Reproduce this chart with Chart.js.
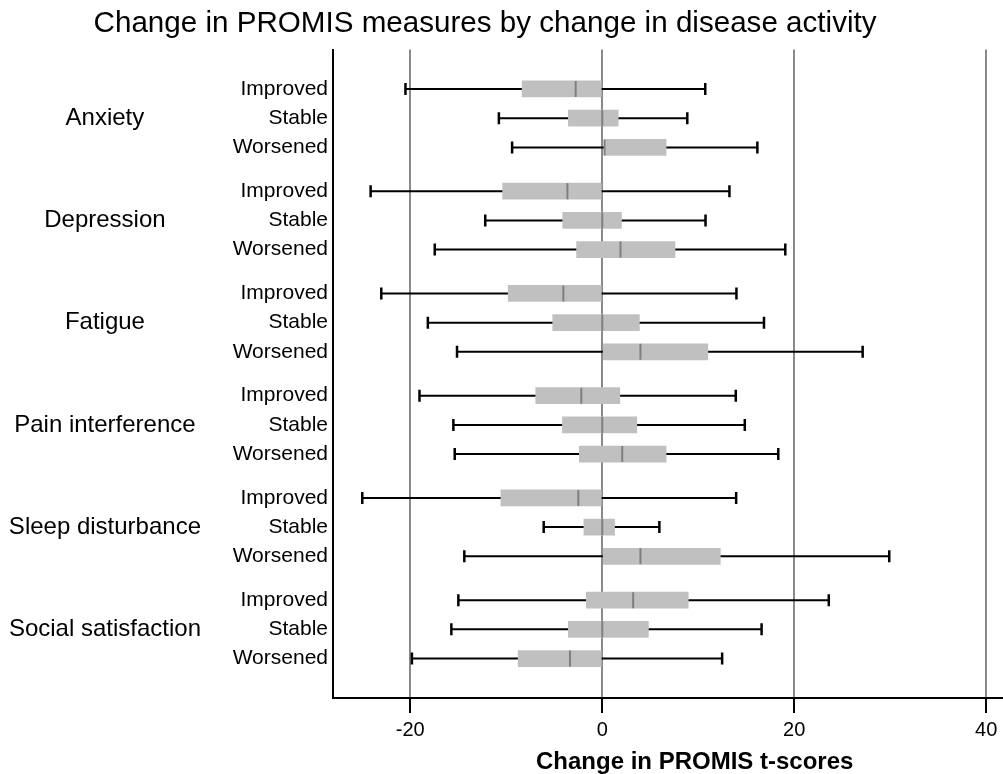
<!DOCTYPE html>
<html>
<head>
<meta charset="utf-8">
<script src="https://cdn.jsdelivr.net/npm/chart.js@4.4.1/dist/chart.umd.min.js"></script>
<style>
  html, body { margin: 0; padding: 0; background: #fff; overflow: hidden; }
  #wrap { position: relative; width: 1003px; height: 774px; }
</style>
</head>
<body>
<div id="wrap"><canvas id="c"></canvas></div>
<script>
// ---- data ----
const groups = ['Anxiety', 'Depression', 'Fatigue', 'Pain interference', 'Sleep disturbance', 'Social satisfaction'];
const statuses = ['Improved', 'Stable', 'Worsened'];
const whiskerLow  = [-20.5, -10.77, -9.39,  -24.13, -12.19, -17.45,  -23.02, -18.17, -15.13,  -19.04, -15.51, -15.37,  -25.0, -6.1, -14.37,  -14.99, -15.72, -19.83];
const q1          = [-8.35, -3.53, 0.24,    -10.38, -4.12, -2.67,    -9.8, -5.16, 0,          -6.93, -4.15, -2.39,     -10.56, -1.91, 0,    -1.66, -3.53, -8.76];
const medians     = [-2.77, 0, 0.24,        -3.63, 0, 1.9,           -4.05, 0, 3.98,          -2.18, 0, 2.08,          -2.49, 0, 3.98,      3.22, 0, -3.36];
const q3          = [0, 1.66, 6.65,         0, 2.0, 7.58,            0, 3.87, 11.0,           1.83, 3.6, 6.65,         0, 1.28, 12.3,       8.96, 4.81, 0];
const whiskerHigh = [10.73, 8.86, 16.16,    13.25, 10.76, 19.07,     13.98, 16.85, 27.13,     13.91, 14.85, 18.34,     13.95, 5.95, 29.9,   23.6, 16.6, 12.49];
const xTickValues = [-20, 0, 20, 40];

// ---- row positions on the vertical (linear) axis ----
const groupStep = 3.5;
const rowPos = [];
const rowLabels = [];
groups.forEach((g, gi) => statuses.forEach((s, si) => { rowPos.push(gi * groupStep + si); rowLabels.push(s); }));
const groupPos = groups.map((g, gi) => gi * groupStep + 1);

const FONT = "'Liberation Sans', Arial, Helvetica, sans-serif";
Chart.defaults.font.family = FONT;
Chart.defaults.color = '#000';

const boxData = rowPos.map((p, i) => ({ y: p, x: [q1[i], q3[i]] }));
const medianData = rowPos.map((p, i) => ({ x: medians[i], y: p }));
const capData = [];
rowPos.forEach((p, i) => { capData.push({ x: whiskerLow[i], y: p }); capData.push({ x: whiskerHigh[i], y: p }); });
const whiskerSets = rowPos.map((p, i) => ({
  type: 'scatter',
  data: [{ x: whiskerLow[i], y: p }, { x: whiskerHigh[i], y: p }],
  showLine: true,
  borderColor: '#000',
  borderWidth: 2,
  pointRadius: 0,
  order: 3
}));

new Chart(document.getElementById('c'), {
  type: 'scatter',
  data: {
    datasets: [
      ...whiskerSets,
      {
        type: 'bar',
        indexAxis: 'y',
        data: boxData,
        backgroundColor: '#c0c0c0',
        borderWidth: 0,
        barThickness: 16,
        order: 2
      },
      {
        type: 'scatter',
        data: capData,
        pointStyle: 'line',
        rotation: 90,
        radius: 6,
        borderColor: '#000',
        borderWidth: 2.5,
        order: 1
      },
      {
        type: 'scatter',
        data: medianData,
        pointStyle: 'line',
        rotation: 90,
        radius: 8,
        borderColor: '#7f7f7f',
        borderWidth: 2,
        order: 0
      }
    ]
  },
  options: {
    responsive: true,
    maintainAspectRatio: false,
    animation: false,
    events: [],
    layout: { padding: 0, autoPadding: false },
    plugins: {
      legend: { display: false },
      tooltip: { enabled: false },
      title: {
        display: true,
        text: 'Change in PROMIS measures by change in disease activity    ',
        font: { size: 29.6, weight: 'normal', family: FONT },
        color: '#000',
        padding: { top: 6, bottom: 8 }
      }
    },
    scales: {
      x: {
        type: 'linear',
        position: 'bottom',
        min: -28.05,
        max: 41.75,
        offset: false,
        z: 1,
        afterBuildTicks: (s) => { s.ticks = xTickValues.map(v => ({ value: v })); },
        afterFit: (s) => { s.height = 76; s.paddingRight = 0; s.paddingLeft = 0; },
        grid: { offset: false, color: '#8a8a8a', lineWidth: 2, tickColor: '#000', tickWidth: 2, tickLength: 15, drawOnChartArea: true },
        border: { color: '#000', width: 2 },
        ticks: { font: { size: 20, family: FONT }, color: '#000', padding: 5, maxRotation: 0 },
        title: {
          display: true,
          text: '        Change in PROMIS t-scores',
          font: { size: 24, weight: 'bold', family: FONT, lineHeight: 1.0 },
          color: '#000',
          padding: { top: 0, bottom: 0 }
        }
      },
      y: {
        type: 'linear',
        position: 'left',
        weight: 0,
        reverse: true,
        offset: false,
        min: -1.35,
        max: 20.85,
        afterBuildTicks: (s) => { s.ticks = rowPos.map(v => ({ value: v })); },
        afterFit: (s) => { s.width = 123; },
        grid: { offset: false, display: false, drawTicks: false },
        border: { color: '#000', width: 2 },
        ticks: {
          font: { size: 21, family: FONT }, color: '#000', padding: 5, autoSkip: false,
          callback: (v, i) => rowLabels[i]
        }
      },
      y2: {
        type: 'linear',
        position: 'left',
        weight: 1,
        reverse: true,
        offset: false,
        min: -1.35,
        max: 20.85,
        afterBuildTicks: (s) => { s.ticks = groupPos.map(v => ({ value: v })); },
        afterFit: (s) => { s.width = 210; },
        grid: { offset: false, display: false, drawTicks: false },
        border: { display: false },
        ticks: {
          font: { size: 24, family: FONT }, color: '#000', padding: 9, crossAlign: 'center', autoSkip: false,
          callback: (v, i) => groups[i]
        }
      }
    }
  }
});
</script>
</body>
</html>
